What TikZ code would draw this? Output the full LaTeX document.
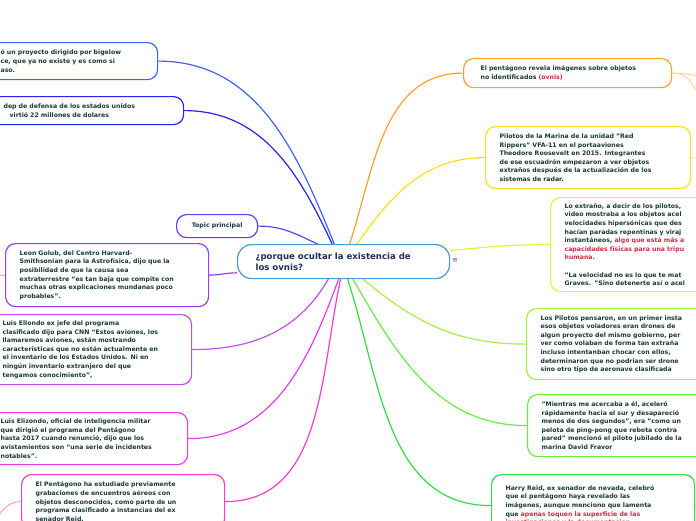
\documentclass[tikz,border=0pt]{standalone}
\usepackage{fontspec}
\setmainfont{DejaVu Sans}

\definecolor{txtdark}{HTML}{1B3B36}
\definecolor{txtnavy}{HTML}{1F2F5A}
\definecolor{ovnired}{HTML}{D42A48}
\definecolor{ctrblue}{HTML}{4A9AD8}
\definecolor{blueA}{HTML}{4062FF}
\definecolor{blueB}{HTML}{2424EE}
\definecolor{violA}{HTML}{6A3DE8}
\definecolor{violB}{HTML}{9B3CF0}
\definecolor{violC}{HTML}{C94CF0}
\definecolor{magA}{HTML}{F03CE8}
\definecolor{magB}{HTML}{FF3DC8}
\definecolor{orA}{HTML}{FFA030}
\definecolor{orB}{HTML}{FFD090}
\definecolor{yelA}{HTML}{FFE020}
\definecolor{yelB}{HTML}{E2F43A}
\definecolor{grnA}{HTML}{A8F040}
\definecolor{grnB}{HTML}{66F040}
\definecolor{grnC}{HTML}{30E048}

\newcommand{\rojo}[1]{\textcolor{ovnired}{#1}}

\begin{document}
\begin{tikzpicture}[
    x=1pt, y=-1pt,
    idea/.style={
      rectangle,
      rounded corners=10pt,
      fill=white,
      line width=1.2pt,
      anchor=north west,
      align=left,
      inner xsep=14pt,
      inner ysep=3pt,
      text=txtdark,
      font=\fontsize{6.2}{8.6}\selectfont\bfseries
    },
    topicbox/.style={
      rectangle,
      rounded corners=14pt,
      draw=ctrblue,
      fill=white,
      line width=1.2pt,
      anchor=north west,
      align=left,
      inner xsep=18pt,
      text=txtnavy,
      font=\fontsize{8.6}{11}\selectfont\bfseries
    },
    branch/.style={line width=1.2pt},
    twig/.style={line width=0.8pt}
  ]

  \fill[white] (0,0) rectangle (696,520);
  \useasboundingbox (0,0) rectangle (696,520);
  \clip (0,0) rectangle (696,520);

  % centre
  \node[topicbox, text width=176pt, minimum height=34pt] (central) at (237,244)
    {¿porque ocultar la existencia de\\los ovnis?};
  \node[text=txtnavy!80, font=\fontsize{7}{7}\selectfont, inner sep=1pt] (menu) at (455,261) {≡};

  % left side
  \node[idea, draw=blueA, text width=143pt, minimum height=37pt] (bigelow) at (-14,42)
    {ó un proyecto dirigido por bigelow\\ce, que ya no existe y es como si\\aso.};
  \node[idea, draw=blueB, text width=166pt, minimum height=28pt] (defensa) at (-11,96)
    {dep de defensa de los estados unidos\\\hspace*{6pt}virtió 22 millones de dolares};
  \node[idea, draw=violA, align=center, inner xsep=10pt, minimum width=81pt, minimum height=23pt] (topic) at (176,214)
    {Topic principal};
  \node[idea, draw=violB, text width=175pt, minimum height=63pt] (golub) at (5,243)
    {Leon Golub, del Centro Harvard-\\Smithsonian para la Astrofísica, dijo que la\\posibilidad de que la causa sea\\extraterrestre “es tan baja que compite con\\muchas otras explicaciones mundanas poco\\probables”.};
  \node[idea, draw=violC, text width=175pt, minimum height=70pt] (ellondo) at (-12,314)
    {Luis Ellondo ex jefe del programa\\clasificado dijo para CNN “Estos aviones, los\\llamaremos aviones, están mostrando\\características que no están actualmente en\\el inventario de los Estados Unidos. Ni en\\ningún inventario extranjero del que\\tengamos conocimiento”,};
  \node[idea, draw=magA, text width=173pt, minimum height=52pt] (elizondo) at (-14,412)
    {Luis Elizondo, oficial de inteligencia militar\\que dirigió el programa del Pentágono\\hasta 2017 cuando renunció, dijo que los\\avistamientos son “una serie de incidentes\\notables”.};
  \node[idea, draw=magB, text width=175pt, minimum height=54pt] (pentagono) at (21,474)
    {El Pentágono ha estudiado previamente\\grabaciones de encuentros aéreos con\\objetos desconocidos, como parte de un\\programa clasificado a instancias del ex\\senador Reid.};

  % right side
  \node[idea, draw=orA, inner xsep=17pt, text width=174pt, minimum height=29pt] (revela) at (463,58)
    {El pentágono revela imágenes sobre objetos\\no identificados \rojo{(ovnis)}};
  \node[idea, draw=yelA, text width=177pt, minimum height=62pt] (pilotos) at (485,126)
    {Pilotos de la Marina de la unidad "Red\\Rippers" VFA-11 en el portaaviones\\Theodore Roosevelt en 2015. Integrantes\\de ese escuadrón empezaron a ver objetos\\extraños después de la actualización de los\\sistemas de radar.};
  \node[idea, draw=yelB, text width=177pt, minimum height=94pt] (extrano) at (550,197)
    {Lo extraño, a decir de los pilotos,\\video mostraba a los objetos acel\\velocidades hipersónicas que des\\hacían paradas repentinas y viraj\\instantáneos, \rojo{algo que está más a}\\\rojo{capacidades físicas para una tripu}\\\rojo{humana.}\\\mbox{}\\"La velocidad no es lo que te mat\\Graves. "Sino detenerte así o acel};
  \node[idea, draw=grnA, text width=177pt, minimum height=71pt] (pensaron) at (526,308)
    {Los Pilotos pensaron, en un primer insta\\esos objetos voladores eran drones de\\algun proyecto del mismo gobierno, per\\ver como volaban de forma tan extraña\\incluso intentanban chocar con ellos,\\determinaron que no podrian ser drone\\sino otro tipo de aeronave clasificada};
  \node[idea, draw=grnB, text width=177pt, minimum height=62pt] (fravor) at (527,394)
    {"Mientras me acercaba a él, aceleró\\rápidamente hacia el sur y desapareció\\menos de dos segundos", era "como un\\pelota de ping-pong que rebota contra\\pared" mencionó el piloto jubilado de la\\marina David Fravor};
  \node[idea, draw=grnC, text width=175pt, minimum height=62pt] (reid) at (491,474)
    {Harry Reid, ex senador de nevada, celebró\\que el pentágono haya revelado las\\imágenes, aunque menciono que lamenta\\que \rojo{apenas toquen la superficie de las}\\\rojo{investigaciones y la documentacion}};

  % branches off the canvas
  \coordinate (revelaA) at (720,78);
  \coordinate (revelaB) at (705,128);
  \coordinate (pilotosA) at (720,158);
  \coordinate (reidA) at (720,507);
  \coordinate (golubA) at (-30,276);
  \coordinate (pentagonoA) at (-8,535);

  \draw[branch, blueA] (central.118) to[out=112, in=0] (bigelow.east);
  \draw[branch, blueB] (central.123) to[out=115, in=0] (defensa.east);
  \draw[branch, violA] (central.146) to[out=155, in=0] (topic.east);
  \draw[branch, violB] (central.186) to[out=180, in=0] (golub.east);
  \draw[branch, violC] (central.229) to[out=240, in=0] (ellondo.east);
  \draw[branch, magA] (central.254) to[out=250, in=0] (elizondo.east);
  \draw[branch, magB] (central.260) to[out=258, in=0] (pentagono.east);

  \draw[branch, orA] (central.71) to[out=72, in=180] (revela.west);
  \draw[branch, yelA] (central.53) to[out=55, in=180] (pilotos.west);
  \draw[branch, yelB] (central.6) to[out=5, in=180] (extrano.west);
  \draw[branch, grnA] (central.-42) to[out=-40, in=180] (pensaron.west);
  \draw[branch, grnB] (central.-62) to[out=-60, in=180] (fravor.west);
  \draw[branch, grnC] (central.-77) to[out=-72, in=180] (reid.west);

  \draw[twig, orB] (revela.east) to[out=0, in=180] (revelaA);
  \draw[twig, orB] (revela.east) to[out=0, in=100] (revelaB);
  \draw[twig, yelA!60] (pilotos.east) -- (pilotosA);
  \draw[twig, grnC!60] (reid.east) -- (reidA);
  \draw[twig, violB!60] (golub.west) -- (golubA);
  \draw[twig, magB!60] (pentagono.west) to[out=180, in=80] (pentagonoA);

\end{tikzpicture}
\end{document}
